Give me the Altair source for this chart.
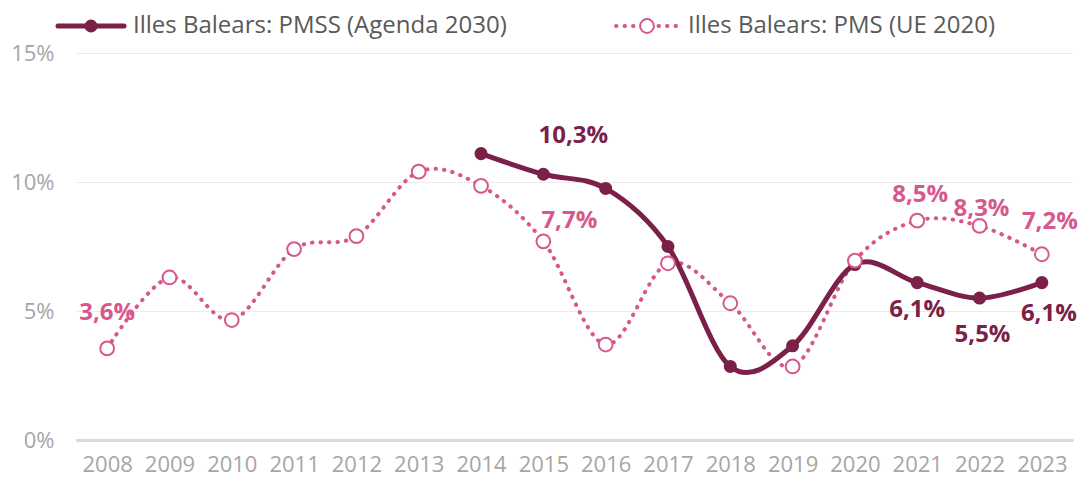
import altair as alt
import pandas as pd

years = [str(y) for y in range(2008, 2024)]
pms_values = [3.55, 6.3, 4.65, 7.4, 7.9, 10.4, 9.85, 7.7, 3.7, 6.85, 5.3, 2.85, 6.95, 8.5, 8.3, 7.2]
pmss_years = [str(y) for y in range(2014, 2024)]
pmss_values = [11.1, 10.3, 9.75, 7.5, 2.85, 3.65, 6.8, 6.1, 5.5, 6.1]

pms_labels = {"2008": "3,6%", "2015": "7,7%", "2021": "8,5%", "2022": "8,3%", "2023": "7,2%"}
pmss_labels = {"2015": "10,3%", "2021": "6,1%", "2022": "5,5%", "2023": "6,1%"}

DARK = "#7B2048"
PINK = "#D6588C"
FONT = "Open Sans"

pms = pd.DataFrame({"year": years, "v": [v / 100 for v in pms_values]})
pmss = pd.DataFrame({"year": pmss_years, "v": [v / 100 for v in pmss_values]})

x = alt.X("year:O", title=None,
          axis=alt.Axis(labelAngle=0, labelColor="#A6A6A6", labelFontSize=22, labelFont=FONT,
                        domainColor="#D9D9D9", domainWidth=3, ticks=False, labelPadding=14, grid=False))
y = alt.Y("v:Q", title=None,
          scale=alt.Scale(domain=[0, 0.15]),
          axis=alt.Axis(values=[0, 0.05, 0.10, 0.15], format=".0%", labelColor="#A6A6A6",
                        labelFontSize=22, labelFont=FONT, domain=False, ticks=False,
                        gridColor="#EBEBEB", gridWidth=1, labelPadding=22))

pms_line = alt.Chart(pms).mark_line(color=PINK, strokeWidth=4, strokeDash=[0.5, 8],
                                    strokeCap="round", interpolate="cardinal").encode(x=x, y=y)
pms_pts = alt.Chart(pms).mark_point(shape="circle", filled=True, fill="white", stroke=PINK,
                                    strokeWidth=2, size=190, opacity=1).encode(x=x, y=y)
pmss_line = alt.Chart(pmss).mark_line(color=DARK, strokeWidth=5,
                                      interpolate="cardinal").encode(x=x, y=y)
pmss_pts = alt.Chart(pmss).mark_point(shape="circle", filled=True, color=DARK,
                                      size=170, opacity=1).encode(x=x, y=y)

pms_off = {"2008": (0, -35), "2015": (26, -20), "2021": (3, -26), "2022": (2, -17), "2023": (8, -32)}
pmss_off = {"2015": (30, -38), "2021": (0, 27), "2022": (3, 37), "2023": (7, 31)}

LBL = 24
label_layers = []
for yr, txt in pms_labels.items():
    dx, dy = pms_off[yr]
    d = pms[pms.year == yr].assign(t=txt)
    label_layers.append(alt.Chart(d).mark_text(color=PINK, fontSize=LBL, fontWeight="bold", font=FONT,
                                               dx=dx, dy=dy).encode(x=x, y=y, text="t:N"))
for yr, txt in pmss_labels.items():
    dx, dy = pmss_off[yr]
    d = pmss[pmss.year == yr].assign(t=txt)
    label_layers.append(alt.Chart(d).mark_text(color=DARK, fontSize=LBL, fontWeight="bold", font=FONT,
                                               dx=dx, dy=dy).encode(x=x, y=y, text="t:N"))

# custom legend
LY = -27
leg_base = alt.Chart(pd.DataFrame({"a": [0]}))
leg = [
    leg_base.mark_rule(color=DARK, strokeWidth=5, strokeCap="round").encode(
        x=alt.value(-18), x2=alt.value(48), y=alt.value(LY)),
    leg_base.mark_point(shape="circle", filled=True, color=DARK, size=170, opacity=1).encode(
        x=alt.value(15), y=alt.value(LY)),
    leg_base.mark_text(text="Illes Balears: PMSS (Agenda 2030)", align="left", fontSize=24,
                       font=FONT, color="#595959").encode(x=alt.value(57), y=alt.value(LY)),
    leg_base.mark_rule(color=PINK, strokeWidth=4, strokeDash=[0.5, 8], strokeCap="round").encode(
        x=alt.value(540), x2=alt.value(606), y=alt.value(LY)),
    leg_base.mark_point(shape="circle", filled=True, fill="white", stroke=PINK, strokeWidth=2,
                        size=190, opacity=1).encode(x=alt.value(571), y=alt.value(LY)),
    leg_base.mark_text(text="Illes Balears: PMS (UE 2020)", align="left", fontSize=24,
                       font=FONT, color="#595959").encode(x=alt.value(612), y=alt.value(LY)),
]

chart = alt.layer(pms_line, pmss_line, pmss_pts, pms_pts, *label_layers, *leg).properties(
    width=997, height=387,
    autosize=alt.AutoSizeParams(type="none"),
    padding={"left": 68, "top": 45, "right": 6, "bottom": 40},
).configure_view(stroke=None).configure_scale(pointPadding=0.5)

chart.save("out.html", embed_options={"renderer": "svg", "actions": False})
